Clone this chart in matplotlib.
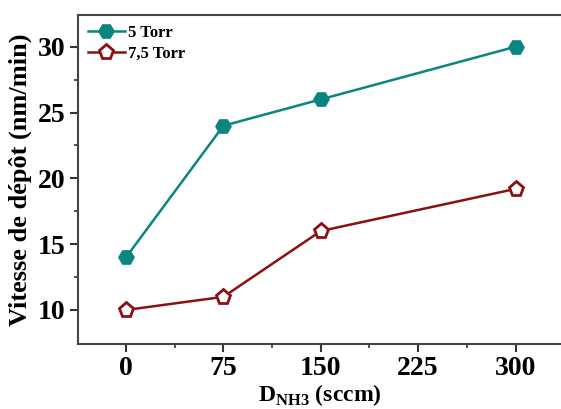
import matplotlib
matplotlib.use("Agg")
import matplotlib.pyplot as plt

# données
flow = [0, 75, 150, 300]
rate_5torr = [14, 24, 26, 30]
rate_75torr = [10, 11, 16, 19.2]
xticks = [0, 75, 150, 225, 300]
yticks = [10, 15, 20, 25, 30]

plt.rcParams["font.family"] = ["Liberation Serif", "DejaVu Serif"]
plt.rcParams["font.weight"] = "bold"
plt.rcParams["mathtext.fontset"] = "custom"
plt.rcParams["mathtext.rm"] = "Liberation Serif:bold"
plt.rcParams["mathtext.bf"] = "Liberation Serif:bold"

fig = plt.figure(figsize=(5.61, 4.09), dpi=100)
ax = fig.add_axes([0.139, 0.16, 0.861, 0.803])

ax.plot(flow, rate_5torr, color="#0a8580", lw=1.8, marker="H", ms=11,
        mfc="#0a8580", mec="#0a8580", label="5 Torr")
ax.plot(flow, rate_75torr, color="#8b1010", lw=1.8, marker="p", ms=11,
        mfc="white", mec="#8b1010", mew=2, label="7,5 Torr")

ax.set_xlim(-37, 335)
ax.set_ylim(7.45, 32.4)
ax.set_xticks(xticks)
ax.set_yticks(yticks)
ax.set_xticks([37.5, 112.5, 187.5, 262.5], minor=True)
ax.set_yticks([12.5, 17.5, 22.5, 27.5], minor=True)
ax.tick_params(axis="both", which="major", direction="out", length=6, width=1.5,
               labelsize=20, color="#333333", pad=3)
ax.tick_params(axis="both", which="minor", direction="out", length=3, width=1.2,
               color="#333333")
for lab in ax.get_xticklabels() + ax.get_yticklabels():
    lab.set_fontweight("bold")

for s in ["left", "bottom", "top"]:
    ax.spines[s].set_linewidth(1.5)
    ax.spines[s].set_color("#444444")
ax.spines["right"].set_visible(False)

ax.set_ylabel("Vitesse de dépôt (nm/min)", fontsize=19, fontweight="bold", labelpad=4)
ax.set_xlabel(r"D$_{\mathregular{NH3}}$ (sccm)", fontsize=17, fontweight="bold", labelpad=1)

leg = ax.legend(loc="upper left", frameon=False, handlelength=2.2,
                handletextpad=0.2, borderaxespad=0.2, labelspacing=0.3,
                prop={"weight": "bold", "size": 12})

fig.savefig("out.png", dpi=100)
